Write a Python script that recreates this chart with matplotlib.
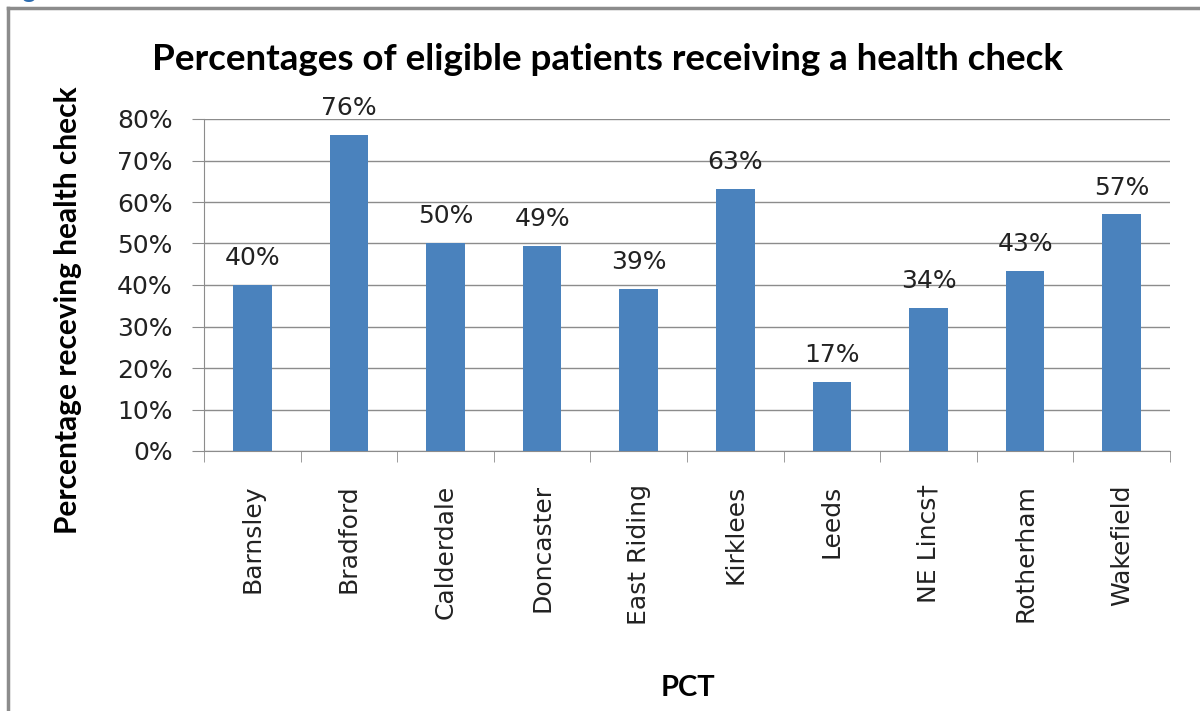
import matplotlib
matplotlib.use("Agg")
import matplotlib.pyplot as plt
import numpy as np

pcts = ["Barnsley", "Bradford", "Calderdale", "Doncaster", "East Riding",
        "Kirklees", "Leeds", "NE Lincs\u2020", "Rotherham", "Wakefield"]
values = [40.0, 76.1, 50.2, 49.4, 39.1, 63.2, 16.6, 34.4, 43.3, 57.0]
yticks = [0, 10, 20, 30, 40, 50, 60, 70, 80]

plt.rcParams['font.family'] = ['DejaVu Sans']
bold_font = ['Lato', 'DejaVu Sans']
grey = "#8c8c8c"

fig = plt.figure(figsize=(12, 7.11), dpi=100)
ax = fig.add_axes([204/1200, 1-451/711, 966/1200, 332/711])

x = np.arange(len(pcts))
bars = ax.bar(x, values, width=0.4, color="#4a82bd", zorder=3)
for xi, v in zip(x, values):
    ax.text(xi, v + 3.6, "%d%%" % round(v), ha="center", va="bottom",
            fontsize=18, color="#222222")

ax.set_xlim(-0.5, len(pcts) - 0.5)
ax.set_ylim(0, 80)
ax.set_yticks(yticks)
ax.set_yticklabels(["%d%%" % t for t in yticks], fontsize=18, color="#222222")
ax.yaxis.grid(True, color=grey, linewidth=1, zorder=0)
ax.set_xticks(x)
ax.set_xticklabels(pcts, rotation=90, fontsize=18, color="#222222")
ax.tick_params(axis="x", length=0, pad=24)
ax.set_xticks(np.arange(len(pcts) + 1) - 0.5, minor=True)
ax.tick_params(axis="x", which="minor", length=8, color=grey)
ax.tick_params(axis="y", length=8.6, color=grey, pad=14)
for s in ["top", "right"]:
    ax.spines[s].set_visible(False)
for s in ["left", "bottom"]:
    ax.spines[s].set_color(grey)

fig.text(608/1200, 1-60/711, "Percentages of eligible patients receiving a health check",
         ha="center", va="center", fontsize=26.5, fontweight="bold", family=bold_font)
fig.text(68/1200, 1-310/711, "Percentage receving health check", rotation=90,
         ha="center", va="center", fontsize=21.5, fontweight="bold", family=bold_font)
fig.text(688/1200, 1-688/711, "PCT", ha="center", va="center",
         fontsize=21, fontweight="bold", family=bold_font)
# caption above the frame, mostly cut off by the top edge as in the source
fig.text(2/1200, 1+2/711, "Figure 3", ha="left", va="baseline", fontsize=18,
         fontweight="bold", color="#2e6db0", family=bold_font)

# frame around chart
fig.add_artist(plt.Line2D([8/1200, 8/1200], [0, 1-8/711], color=grey,
                          linewidth=2.5, transform=fig.transFigure))
fig.add_artist(plt.Line2D([8/1200, 1], [1-8/711, 1-8/711], color=grey,
                          linewidth=2.5, transform=fig.transFigure))

fig.savefig("out.png", dpi=100)
